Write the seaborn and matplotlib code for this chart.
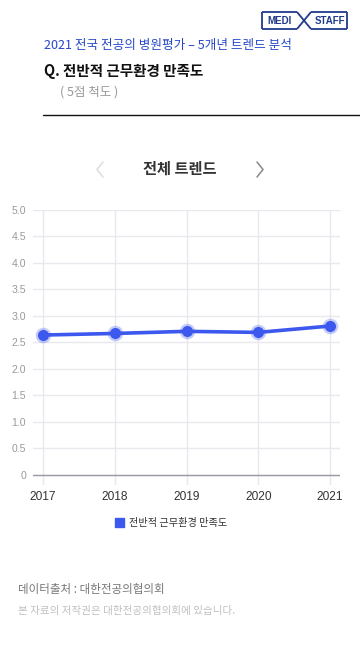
import matplotlib
matplotlib.use("Agg")
import matplotlib.pyplot as plt
import seaborn as sns
import pandas as pd
from matplotlib.patches import Patch
from matplotlib.lines import Line2D

years = [2017, 2018, 2019, 2020, 2021]
scores = [2.64, 2.67, 2.71, 2.69, 2.81]
series_name = "전반적 근무환경 만족도"
y_ticks = [0, 0.5, 1.0, 1.5, 2.0, 2.5, 3.0, 3.5, 4.0, 4.5, 5.0]
y_tick_labels = ["0", "0.5", "1.0", "1.5", "2.0", "2.5", "3.0", "3.5", "4.0", "4.5", "5.0"]

sns.set_theme(style="white")
plt.rcParams['font.family'] = ['Noto Sans CJK KR', 'DejaVu Sans']

W, H = 360, 650
fig = plt.figure(figsize=(W / 100, H / 100), dpi=100)
fig.patch.set_facecolor("white")

def fx(px):
    return px / W

def fy(py):
    return 1 - py / H

blue = "#3d58ee"

# Axes
ax_left, ax_right, ax_top, ax_bottom = 33, 340, 210, 485
ax = fig.add_axes([fx(ax_left), fy(ax_bottom), fx(ax_right - ax_left), (ax_bottom - ax_top) / H])
df = pd.DataFrame({"year": years, "score": scores, "series": series_name})
sns.lineplot(data=df, x="year", y="score", ax=ax, color=blue, linewidth=2.6,
             marker="o", markersize=8, markerfacecolor=blue,
             markeredgecolor=(0.24, 0.35, 0.93, 0.30), markeredgewidth=3.2,
             legend=False, zorder=5)
ax.set_xlim(2016.86, 2021.14)
ax.set_ylim(-0.19, 5.0)
ax.set_yticks(y_ticks)
ax.set_yticklabels(y_tick_labels, family=["Liberation Sans"])
ax.set_xticks(years)
ax.set_xticklabels([str(y) for y in years], family=["Liberation Sans"])
ax.set_xlabel("")
ax.set_ylabel("")
for s in ax.spines.values():
    s.set_visible(False)
ax.grid(True, axis="both", color="#e8e8ee", linewidth=1.0)
ax.axhline(0, color="#9a9aa2", linewidth=1.0, zorder=3)
ax.tick_params(axis="y", labelsize=7.6, length=0, pad=5)
ax.tick_params(axis="x", labelsize=8.6, length=0, pad=4)
for lab in ax.get_yticklabels():
    lab.set_color("#9a9aa0")
for lab in ax.get_xticklabels():
    lab.set_color("#333333")

# Legend
fig.legend(handles=[Patch(facecolor=blue, edgecolor=blue)], labels=[series_name],
           loc="center", bbox_to_anchor=(0.475, fy(523)), frameon=False,
           handlelength=0.95, handleheight=0.95, handletextpad=0.5,
           fontsize=7.3, labelcolor="#333333")

# Header texts
fig.text(fx(44), fy(45), "2021 전국 전공의 병원평가 – 5개년 트렌드 분석", color="#2747c9",
         fontsize=9.1, va="center", ha="left")
fig.text(fx(44), fy(71), "Q. 전반적 근무환경 만족도", color="#111111",
         fontsize=10.5, va="center", ha="left", fontweight="semibold")
fig.text(fx(60), fy(92), "( 5점 척도 )", color="#999999",
         fontsize=9.0, va="center", ha="left")
fig.add_artist(Line2D([fx(43), fx(360)], [fy(115), fy(115)], color="#111111", linewidth=1.0))

# Logo
navy = "#1f3a8a"
lw = 1.3
logo_segments = [
    [(262, 12), (297, 12)],
    [(262, 29), (297, 29)],
    [(262, 12), (262, 29)],
    [(297, 12), (311, 29)],
    [(297, 29), (311, 12)],
    [(311, 12), (347, 12)],
    [(311, 29), (347, 29)],
    [(347, 12), (347, 29)],
]
for seg in logo_segments:
    fig.add_artist(Line2D([fx(seg[0][0]), fx(seg[1][0])], [fy(seg[0][1]), fy(seg[1][1])],
                          color=navy, linewidth=lw, solid_capstyle="butt"))
fig.text(fx(280), fy(21), "MEDI", color=navy, fontsize=7.0, fontweight="bold",
         ha="center", va="center", family=["Liberation Sans"])
fig.text(fx(330), fy(21), "STAFF", color=navy, fontsize=7.0, fontweight="bold",
         ha="center", va="center", family=["Liberation Sans"])

# Section title with chevrons
fig.text(fx(180), fy(169), "전체 트렌드", color="#333333", fontsize=11, fontweight="bold",
         ha="center", va="center")
fig.add_artist(Line2D([fx(103), fx(97), fx(103)], [fy(162), fy(169.5), fy(177)],
                      color="#dddddd", linewidth=1.1))
fig.add_artist(Line2D([fx(257), fx(263), fx(257)], [fy(162), fy(169.5), fy(177)],
                      color="#888888", linewidth=1.1))

# Footer
fig.text(fx(18), fy(590), "데이터출처 : 대한전공의협의회", color="#777777", fontsize=8.3,
         ha="left", va="center")
fig.text(fx(18), fy(611), "본 자료의 저작권은 대한전공의협의회에 있습니다.", color="#c0c0c4",
         fontsize=7.6, ha="left", va="center")

fig.savefig("out.png", dpi=100, facecolor="white")
